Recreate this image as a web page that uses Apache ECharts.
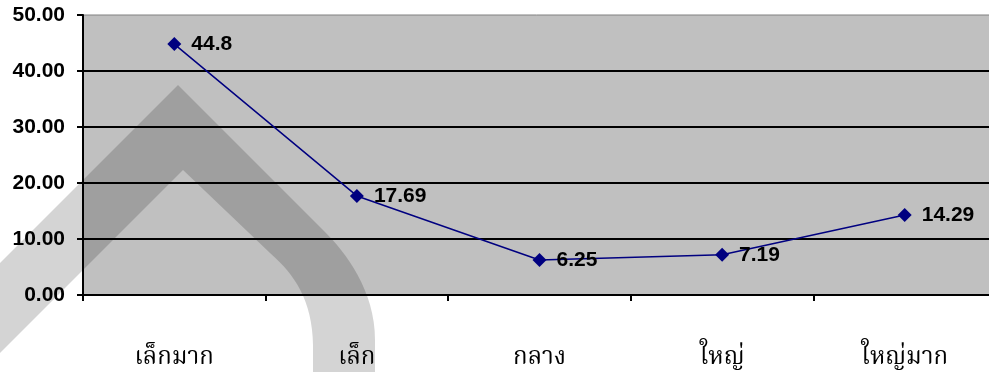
<!DOCTYPE html>
<html>
<head>
<meta charset="utf-8">
<script src="https://cdn.jsdelivr.net/npm/echarts@6/dist/echarts.min.js"></script>
<style>
  html, body { margin: 0; padding: 0; background: #ffffff; }
  #chart { width: 989px; height: 372px; }
</style>
</head>
<body>
<div id="chart"></div>
<script>
// Size classes and their share (%)
const categories = ['เล็กมาก', 'เล็ก', 'กลาง', 'ใหญ่', 'ใหญ่มาก'];
const shares = [44.8, 17.69, 6.25, 7.19, 14.29];
const yMin = 0;
const yMax = 50;
const yStep = 10;

const chart = echarts.init(document.getElementById('chart'), null, { renderer: 'canvas' });

const numFont = '"Liberation Sans", Arial, sans-serif';
const thaiFont = '"Noto Serif Thai", "Norasi", "Noto Sans Thai", "Garuda", serif';

// sample a cubic bezier into polygon points
function cubic(p0, p1, p2, p3, n) {
  const pts = [];
  for (let i = 1; i <= n; i++) {
    const t = i / n, u = 1 - t;
    pts.push([
      u * u * u * p0[0] + 3 * u * u * t * p1[0] + 3 * u * t * t * p2[0] + t * t * t * p3[0],
      u * u * u * p0[1] + 3 * u * u * t * p1[1] + 3 * u * t * t * p2[1] + t * t * t * p3[1]
    ]);
  }
  return pts;
}

// emblem outline: outer edge, then inner edge back
const emblem = [].concat(
  [[-60, 323], [178, 85], [325, 232]],
  cubic([325, 232], [345, 252], [375, 290], [375, 340], 16),
  [[375, 380], [313, 380], [313, 345]],
  cubic([313, 345], [312, 300], [295, 275], [270, 253], 16),
  [[183, 170], [-60, 413]]
);

chart.setOption({
  animation: false,
  backgroundColor: '#ffffff',
  grid: {
    left: 83,
    width: 913,
    top: 15,
    bottom: 77,
    outerBoundsMode: 'none',
    show: true,
    backgroundColor: '#c0c0c0',
    borderColor: '#808080',
    borderWidth: 1
  },
  xAxis: {
    type: 'category',
    data: categories,
    boundaryGap: true,
    axisLine: { lineStyle: { color: '#000000', width: 2 } },
    axisTick: { show: true, length: 6, lineStyle: { color: '#000000', width: 2 } },
    axisLabel: {
      margin: 53,
      color: '#000000',
      fontFamily: thaiFont,
      fontSize: 24
    },
    splitLine: { show: false }
  },
  yAxis: {
    type: 'value',
    min: yMin,
    max: yMax,
    interval: yStep,
    axisLine: { show: true, lineStyle: { color: '#000000', width: 2 } },
    axisTick: { show: true, length: 6, lineStyle: { color: '#000000', width: 2 } },
    axisLabel: {
      margin: 18,
      color: '#000000',
      fontFamily: numFont,
      fontWeight: 'bold',
      fontSize: 21,
      formatter: v => v.toFixed(2)
    },
    splitLine: {
      show: true,
      showMaxLine: false,
      lineStyle: { color: '#000000', width: 2 }
    }
  },
  graphic: [
    {
      type: 'polygon',
      z: 1,
      silent: true,
      shape: { points: emblem },
      style: { fill: 'rgba(0,0,0,0.17)' }
    }
  ],
  series: [
    {
      type: 'line',
      data: shares,
      z: 5,
      symbol: 'diamond',
      symbolSize: 14,
      lineStyle: { color: '#000080', width: 1.5 },
      itemStyle: { color: '#000080' },
      label: {
        show: true,
        position: 'right',
        distance: 10,
        color: '#000000',
        fontFamily: numFont,
        fontWeight: 'bold',
        fontSize: 21,
        formatter: p => String(p.value)
      }
    }
  ]
});
</script>
</body>
</html>
